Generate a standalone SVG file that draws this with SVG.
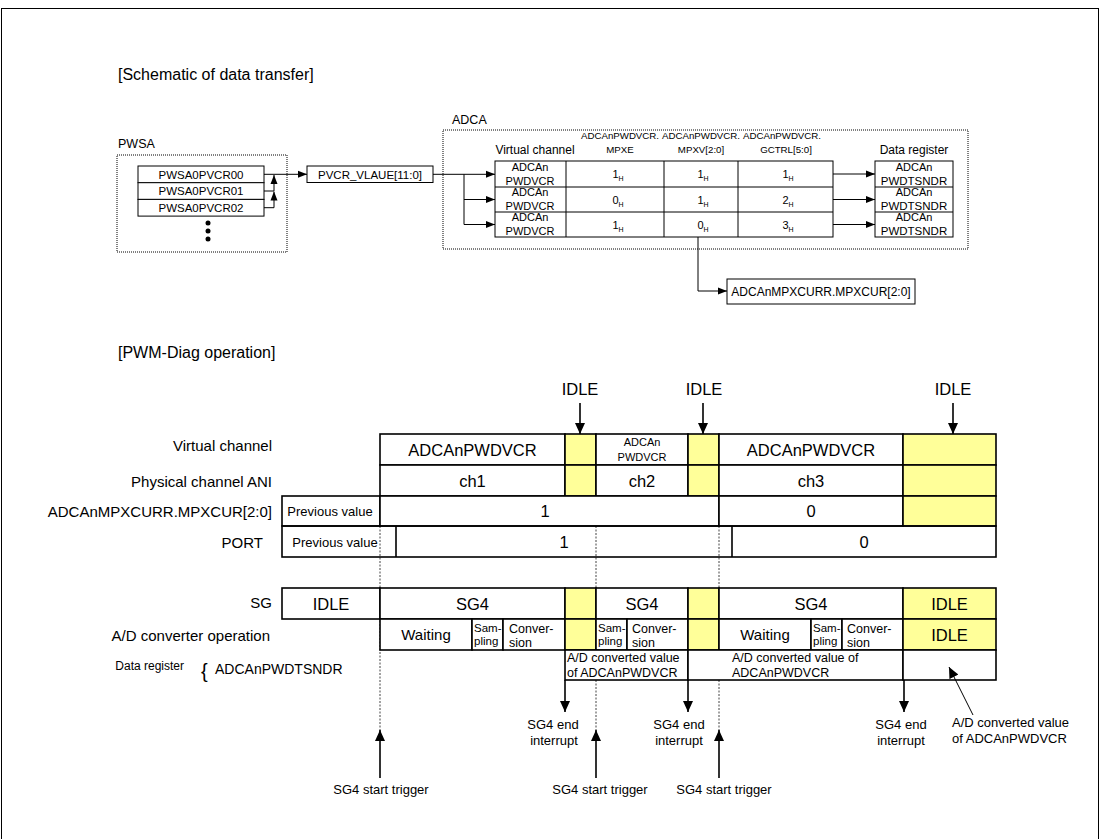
<svg xmlns="http://www.w3.org/2000/svg" width="1105" height="839" viewBox="0 0 1105 839">
<defs>
<style>
text{font-family:"Liberation Sans",Arial,sans-serif;fill:#000}
.m{text-anchor:middle}
.e{text-anchor:end}
.t16{font-size:16px}
.t15{font-size:15px}
.t13{font-size:13px}
.t12{font-size:12.5px}
.t11{font-size:11.5px}
.t10{font-size:11px}
.t9{font-size:9.7px}
.big{font-size:16.5px}
.sub{font-size:7px}
.bx{fill:#fff;stroke:#000;stroke-width:1}
.dbx{fill:none;stroke:#000;stroke-width:1;stroke-dasharray:1,1}
.tb{fill:#fff;stroke:#000;stroke-width:1.6}
.ty{fill:#ffff99;stroke:#000;stroke-width:1.6}
.ln{fill:none;stroke:#000;stroke-width:1}
.lnb{fill:none;stroke:#000;stroke-width:1.6}
.dl{fill:none;stroke:#444;stroke-width:1;stroke-dasharray:2,1.5}
</style>
<marker id="ah" markerUnits="userSpaceOnUse" markerWidth="9" markerHeight="8" refX="9" refY="4" orient="auto"><path d="M0,0.5 L9,4 L0,7.5z" fill="#000"/></marker>
<marker id="AH" markerUnits="userSpaceOnUse" markerWidth="11" markerHeight="10" refX="11" refY="5" orient="auto"><path d="M0,0 L11,5 L0,10z" fill="#000"/></marker>
</defs>
<rect x="1.5" y="8.5" width="1097" height="845" fill="#fff" stroke="#000" stroke-width="1"/>

<g id="title-schematic"><text x="118" y="80" class="t16">[Schematic of data transfer]</text></g>

<g id="pwsa">
<text x="118" y="148" style="font-size:12.5px">PWSA</text>
<rect x="117" y="155" width="170" height="97" class="dbx"/>
<rect x="138" y="166" width="126" height="16.7" class="bx"/>
<rect x="138" y="182.7" width="126" height="16.7" class="bx"/>
<rect x="138" y="199.4" width="126" height="16.7" class="bx"/>
<text x="201" y="178.5" class="t11 m">PWSA0PVCR00</text>
<text x="201" y="195.2" class="t11 m">PWSA0PVCR01</text>
<text x="201" y="211.9" class="t11 m">PWSA0PVCR02</text>
<circle cx="208" cy="223" r="2.5"/><circle cx="208" cy="231" r="2.5"/><circle cx="208" cy="239" r="2.5"/>
</g>

<g id="pvcr">
<rect x="307" y="166" width="126" height="16.5" class="bx"/>
<text x="370" y="178.5" class="t11 m">PVCR_VLAUE[11:0]</text>
</g>

<g id="adca">
<text x="452" y="124" style="font-size:12.5px">ADCA</text>
<rect x="443" y="130" width="525" height="119" class="dbx"/>
<text x="535" y="154" class="m" style="font-size:12px">Virtual channel</text>
<text x="620" y="139" class="t9 m">ADCAnPWDVCR.</text>
<text x="620" y="153" class="t9 m">MPXE</text>
<text x="701" y="139" class="t9 m">ADCAnPWDVCR.</text>
<text x="701" y="153" class="t9 m">MPXV[2:0]</text>
<text x="782" y="139" class="t9 m">ADCAnPWDVCR.</text>
<text x="786" y="153" class="t9 m">GCTRL[5:0]</text>
<text x="914" y="154" class="m" style="font-size:12px">Data register</text>
</g>

<g id="vc-table">
<rect x="495" y="161" width="338" height="76" class="bx"/>
<path d="M495,187H833M495,212H833M566,161V237M664,161V237M738,161V237" class="ln"/>
<text x="530" y="171" class="t10 m">ADCAn</text><text x="530" y="185" class="t10 m">PWDVCR</text>
<text x="530" y="196" class="t10 m">ADCAn</text><text x="530" y="210" class="t10 m">PWDVCR</text>
<text x="530" y="221" class="t10 m">ADCAn</text><text x="530" y="235" class="t10 m">PWDVCR</text>
<text x="618" y="178" class="t10 m">1<tspan class="sub" dy="3">H</tspan></text>
<text x="703" y="178" class="t10 m">1<tspan class="sub" dy="3">H</tspan></text>
<text x="788" y="178" class="t10 m">1<tspan class="sub" dy="3">H</tspan></text>
<text x="618" y="203.5" class="t10 m">0<tspan class="sub" dy="3">H</tspan></text>
<text x="703" y="203.5" class="t10 m">1<tspan class="sub" dy="3">H</tspan></text>
<text x="788" y="203.5" class="t10 m">2<tspan class="sub" dy="3">H</tspan></text>
<text x="618" y="228.5" class="t10 m">1<tspan class="sub" dy="3">H</tspan></text>
<text x="703" y="228.5" class="t10 m">0<tspan class="sub" dy="3">H</tspan></text>
<text x="788" y="228.5" class="t10 m">3<tspan class="sub" dy="3">H</tspan></text>
</g>

<g id="data-register">
<rect x="875" y="161" width="78" height="76" class="bx"/>
<path d="M875,187H953M875,212H953" class="ln"/>
<text x="914" y="171" class="t10 m">ADCAn</text><text x="914" y="185" class="m" style="font-size:11.5px">PWDTSNDR</text>
<text x="914" y="196" class="t10 m">ADCAn</text><text x="914" y="210" class="m" style="font-size:11.5px">PWDTSNDR</text>
<text x="914" y="221" class="t10 m">ADCAn</text><text x="914" y="235" class="m" style="font-size:11.5px">PWDTSNDR</text>
</g>

<g id="mpxcurr">
<rect x="727" y="279" width="188" height="25" class="bx"/>
<text x="821" y="296" class="m" style="font-size:12px">ADCAnMPXCURR.MPXCUR[2:0]</text>
</g>

<g id="connectors-top">
<path d="M264,174.3H307" class="ln" marker-end="url(#ah)"/>
<path d="M264,191H274V175" class="ln" marker-end="url(#ah)"/>
<path d="M264,207.7H274V191.5" class="ln" marker-end="url(#ah)"/>
<path d="M433,174.3H495" class="ln" marker-end="url(#ah)"/>
<path d="M464,174.3V224.5H495" class="ln" marker-end="url(#ah)"/>
<path d="M464,199.5H495" class="ln" marker-end="url(#ah)"/>
<path d="M833,174H875" class="ln" marker-end="url(#ah)"/>
<path d="M833,199.5H875" class="ln" marker-end="url(#ah)"/>
<path d="M833,224.5H875" class="ln" marker-end="url(#ah)"/>
<path d="M698,237V291H727" class="ln" marker-end="url(#ah)"/>
</g>

<g id="title-pwm"><text x="118" y="358" class="t16">[PWM-Diag operation]</text></g>

<g id="row-labels">
<text x="272" y="451" class="t15 e">Virtual channel</text>
<text x="272" y="487" class="t15 e">Physical channel ANI</text>
<text x="272" y="517" class="t15 e">ADCAnMPXCURR.MPXCUR[2:0]</text>
<text x="263" y="548" class="t15 e">PORT</text>
<text x="272" y="608" class="t15 e">SG</text>
<text x="270" y="641" class="t15 e">A/D converter operation</text>
<text x="184" y="670" class="e" style="font-size:12px">Data register</text>
<text x="201" y="678" style="font-size:20px">{</text>
<text x="215" y="674" style="font-size:14px">ADCAnPWDTSNDR</text>
</g>

<g id="guides">
<path d="M380,526V730M596,526V730M719,526V730" class="dl"/>
</g>

<g id="idle-markers">
<text x="580" y="395" class="big m">IDLE</text>
<text x="704" y="395" class="big m">IDLE</text>
<text x="953" y="395" class="big m">IDLE</text>
</g>

<g id="row-virtual-channel">
<rect x="380" y="434" width="185" height="31" class="tb"/>
<rect x="565" y="434" width="31" height="31" class="ty"/>
<rect x="596" y="434" width="92" height="31" class="tb"/>
<rect x="688" y="434" width="31" height="31" class="ty"/>
<rect x="719" y="434" width="184" height="31" class="tb"/>
<rect x="903" y="434" width="93" height="31" class="ty"/>
<text x="472.5" y="456" class="big m">ADCAnPWDVCR</text>
<text x="642" y="446" class="t10 m">ADCAn</text>
<text x="642" y="461" class="t10 m">PWDVCR</text>
<text x="811" y="456" class="big m">ADCAnPWDVCR</text>
</g>

<g id="row-physical-channel">
<rect x="380" y="465" width="185" height="31" class="tb"/>
<rect x="565" y="465" width="31" height="31" class="ty"/>
<rect x="596" y="465" width="92" height="31" class="tb"/>
<rect x="688" y="465" width="31" height="31" class="ty"/>
<rect x="719" y="465" width="184" height="31" class="tb"/>
<rect x="903" y="465" width="93" height="31" class="ty"/>
<text x="472.5" y="486.5" class="big m">ch1</text>
<text x="642" y="486.5" class="big m">ch2</text>
<text x="811" y="486.5" class="big m">ch3</text>
</g>

<g id="row-mpxcur">
<rect x="282" y="496" width="98" height="30" class="tb"/>
<rect x="380" y="496" width="339" height="30" class="tb"/>
<rect x="719" y="496" width="184" height="30" class="tb"/>
<rect x="903" y="496" width="93" height="30" class="ty"/>
<text x="330" y="516" class="t13 m">Previous value</text>
<text x="545" y="517" class="big m">1</text>
<text x="811" y="517" class="big m">0</text>
</g>

<g id="row-port">
<rect x="282" y="526" width="714" height="31" fill="none" stroke="#000" stroke-width="1.6"/>
<path d="M396,526V557M732,526V557" class="lnb"/>
<text x="335" y="547" class="t13 m">Previous value</text>
<text x="564" y="548" class="big m">1</text>
<text x="864" y="548" class="big m">0</text>
</g>

<g id="row-sg">
<rect x="282" y="588" width="98" height="31" class="tb"/>
<rect x="380" y="588" width="185" height="31" class="tb"/>
<rect x="565" y="588" width="31" height="31" class="ty"/>
<rect x="596" y="588" width="92" height="31" class="tb"/>
<rect x="688" y="588" width="31" height="31" class="ty"/>
<rect x="719" y="588" width="184" height="31" class="tb"/>
<rect x="903" y="588" width="93" height="31" class="ty"/>
<text x="331" y="609.5" class="big m">IDLE</text>
<text x="472.5" y="609.5" class="big m">SG4</text>
<text x="642" y="609.5" class="big m">SG4</text>
<text x="811" y="609.5" class="big m">SG4</text>
<text x="949.5" y="610" class="big m">IDLE</text>
</g>

<g id="row-ad-operation">
<rect x="380" y="619" width="92" height="31" class="tb"/>
<rect x="472" y="619" width="31" height="31" class="tb"/>
<rect x="503" y="619" width="62" height="31" class="tb"/>
<rect x="565" y="619" width="31" height="31" class="ty"/>
<rect x="596" y="619" width="31" height="31" class="tb"/>
<rect x="627" y="619" width="61" height="31" class="tb"/>
<rect x="688" y="619" width="31" height="31" class="ty"/>
<rect x="719" y="619" width="92" height="31" class="tb"/>
<rect x="811" y="619" width="31" height="31" class="tb"/>
<rect x="842" y="619" width="61" height="31" class="tb"/>
<rect x="903" y="619" width="93" height="31" class="ty"/>
<text x="426" y="640" class="t15 m">Waiting</text>
<text x="474" y="632" class="t11">Sam-</text><text x="474" y="645" class="t11">pling</text>
<text x="509" y="633" class="t12">Conver-</text><text x="509" y="646.5" class="t12">sion</text>
<text x="598" y="632" class="t11">Sam-</text><text x="598" y="645" class="t11">pling</text>
<text x="632" y="633" class="t12">Conver-</text><text x="632" y="646.5" class="t12">sion</text>
<text x="765" y="640" class="t15 m">Waiting</text>
<text x="813" y="632" class="t11">Sam-</text><text x="813" y="645" class="t11">pling</text>
<text x="847" y="633" class="t12">Conver-</text><text x="847" y="646.5" class="t12">sion</text>
<text x="949.5" y="641" class="big m">IDLE</text>
</g>

<g id="row-data-register">
<rect x="565" y="650" width="123" height="30" class="tb"/>
<rect x="688" y="650" width="215" height="30" class="tb"/>
<rect x="903" y="650" width="93" height="30" class="tb"/>
<text x="567" y="662" class="t12">A/D converted value</text>
<text x="567" y="677" class="t12">of ADCAnPWDVCR</text>
<text x="732" y="662" class="t12">A/D converted value of</text>
<text x="732" y="677" class="t12">ADCAnPWDVCR</text>
</g>

<g id="connectors-timing">
<path d="M580,403V434" class="lnb" marker-end="url(#AH)"/>
<path d="M703,403V434" class="lnb" marker-end="url(#AH)"/>
<path d="M953,403V434" class="lnb" marker-end="url(#AH)"/>
<path d="M565,680V712" class="lnb" marker-end="url(#AH)"/>
<path d="M688,680V712" class="lnb" marker-end="url(#AH)"/>
<path d="M904,680V712" class="lnb" marker-end="url(#AH)"/>
<path d="M380,778V730" class="lnb" marker-end="url(#AH)"/>
<path d="M596,778V730" class="lnb" marker-end="url(#AH)"/>
<path d="M719,778V730" class="lnb" marker-end="url(#AH)"/>
<path d="M973,715L949,667" class="ln" marker-end="url(#AH)"/>
</g>

<g id="annotations">
<text x="553" y="729" class="t13 m">SG4 end</text>
<text x="554" y="745" class="t13 m">interrupt</text>
<text x="679" y="729" class="t13 m">SG4 end</text>
<text x="679" y="745" class="t13 m">interrupt</text>
<text x="901" y="729" class="t13 m">SG4 end</text>
<text x="901" y="745" class="t13 m">interrupt</text>
<text x="952" y="727" class="t13">A/D converted value</text>
<text x="952" y="743" class="t13">of ADCAnPWDVCR</text>
<text x="381" y="794" class="t13 m">SG4 start trigger</text>
<text x="600" y="794" class="t13 m">SG4 start trigger</text>
<text x="724" y="794" class="t13 m">SG4 start trigger</text>
</g>
</svg>
